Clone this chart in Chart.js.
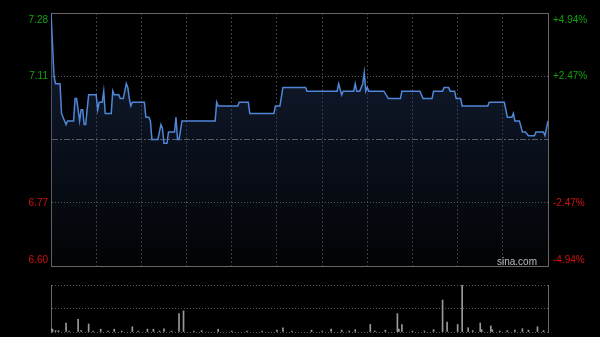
<!DOCTYPE html>
<html><head><meta charset="utf-8">
<script src="https://cdn.jsdelivr.net/npm/chart.js@4"></script>
<style>
html,body{margin:0;padding:0;background:#000;}
#wrap{position:relative;width:600px;height:337px;background:#000;overflow:hidden}
canvas{position:absolute;left:0;top:0}
</style></head><body>
<div id="wrap"><canvas id="price" width="600" height="337"></canvas><canvas id="vol" width="600" height="337"></canvas></div>
<script>
const prevClose = 6.94;
const priceMin = 6.60, priceMax = 7.28;
const priceTicks = [7.28, 7.11, 6.94, 6.77, 6.60];
const priceLabels = ['7.28', '7.11', '', '6.77', '6.60'];
const pctLabels = ['+4.94%', '+2.47%', '', '-2.47%', '-4.94%'];
const timeTicks = [0, 30, 60, 90, 120, 150, 180, 210, 240, 270, 300, 330];

const priceTimes = [0,2,3,6,7,8,10,11,15,16,17,19,20,21,22,23,25,30,31,32,34,35,36,40,41,42,45,46,48,50,51,52,53,54,62,63,65,66,67,71,73,74,75,77,78,82,83,84,85,87,109,110,111,124,125,131,132,148,149,152,154,169,170,190,191,193,194,201,202,203,205,207,208,209,210,211,221,224,232,233,245,247,253,254,260,261,264,265,268,269,272,273,290,291,301,303,306,307,308,311,313,315,317,321,322,327,328,330];
const prices = [7.28,7.11,7.09,7.09,7.01,7.00,6.98,6.99,6.99,7.05,7.05,6.99,7.02,7.02,6.98,6.98,7.06,7.06,7.02,7.04,7.04,7.07,7.01,7.01,7.07,7.06,7.06,7.05,7.05,7.09,7.08,7.05,7.03,7.04,7.04,7.00,7.00,6.99,6.94,6.94,6.98,6.97,6.93,6.93,6.96,6.96,7.00,6.94,6.94,6.99,6.99,7.04,7.03,7.03,7.04,7.04,7.01,7.01,7.03,7.03,7.08,7.08,7.07,7.07,7.09,7.06,7.07,7.07,7.09,7.07,7.07,7.09,7.12,7.07,7.08,7.07,7.07,7.05,7.05,7.07,7.07,7.05,7.05,7.07,7.07,7.08,7.08,7.07,7.07,7.05,7.05,7.03,7.03,7.04,7.04,7.00,7.00,7.01,6.99,6.99,6.96,6.96,6.95,6.95,6.96,6.96,6.95,6.99];

const volTimes = [0,1,3,5,10,12,18,20,25,28,33,38,42,47,54,58,64,68,72,75,80,85,88,95,100,111,120,130,140,150,154,160,173,180,186,193,198,202,212,215,222,230,231,233,240,248,254,260,263,270,273,277,280,285,286,292,293,298,303,308,313,317,323,327];
const volumes = [8,6,3,3,19,2,27,3,17,2,6,2,6,2,11,2,6,6,2,7,2,39,45,2,3,6,2,2,2,4,9,2,4,2,6,4,2,5,16,2,4,39,6,16,2,2,5,68,21,16,100,9,3,19,5,13,5,2,3,4,7,4,11,3];

const GRID = '#3c3c3c', BORDER = '#666';

const labelPlugin = {
  id: 'sideLabels',
  afterDraw(chart) {
    const ctx = chart.ctx, ys = chart.scales.y, a = chart.chartArea;
    ctx.save();
    ctx.font = '10px "Liberation Sans", Arial, sans-serif';
    priceTicks.forEach((v, i) => {
      if (!priceLabels[i]) return;
      let py = ys.getPixelForValue(v), base = 'middle';
      if (py <= a.top + 1) { base = 'top'; py = a.top + 2; }
      else if (py >= a.bottom - 1) { base = 'bottom'; py = a.bottom - 1; }
      ctx.fillStyle = v > prevClose ? '#10a010' : '#d01010';
      ctx.textBaseline = base;
      ctx.textAlign = 'right';
      ctx.fillText(priceLabels[i], a.left - 3, py);
      ctx.textAlign = 'left';
      ctx.fillText(pctLabels[i], a.right + 5, py);
    });
    ctx.fillStyle = '#bdbdbd';
    ctx.textAlign = 'right';
    ctx.textBaseline = 'middle';
    ctx.fillText('sina.com', a.right - 11, a.bottom - 4);
    ctx.restore();
  }
};

new Chart(document.getElementById('price'), {
  type: 'line',
  data: { datasets: [{
    data: priceTimes.map((t, i) => ({ x: t, y: prices[i] })),
    borderColor: '#4f86d8', borderWidth: 1.5, pointRadius: 0, tension: 0,
    fill: 'start',
    backgroundColor: (c) => {
      const a = c.chart.chartArea;
      if (!a) return 'rgba(30,50,90,0.3)';
      const g = c.chart.ctx.createLinearGradient(0, a.top, 0, a.bottom);
      g.addColorStop(0, 'rgba(35,55,95,0.55)');
      g.addColorStop(1, 'rgba(35,55,95,0.06)');
      return g;
    }
  }]},
  options: {
    responsive: false, animation: false, devicePixelRatio: 1,
    layout: { padding: { top: 13, bottom: 71, left: 0, right: 0 } },
    plugins: { legend: { display: false }, tooltip: { enabled: false } },
    scales: {
      x: {
        type: 'linear', min: 0, max: 330, offset: false,
        afterBuildTicks: s => { s.ticks = timeTicks.map(v => ({ value: v })); },
        afterFit: s => { s.height = 0; },
        ticks: { display: false },
        grid: { drawTicks: false, color: c => (c.tick && (c.tick.value === 0 || c.tick.value === 330)) ? 'rgba(0,0,0,0)' : GRID },
        border: { display: true, color: BORDER, dash: [2, 2] }
      },
      y: {
        position: 'left', min: priceMin, max: priceMax,
        afterBuildTicks: s => { s.ticks = priceTicks.map(v => ({ value: v })); },
        afterFit: s => { s.width = 51; },
        ticks: { display: false },
        grid: { drawTicks: false, color: c => {
          if (!c.tick) return GRID;
          if (c.tick.value === priceMax) return BORDER;
          if (c.tick.value === priceMin) return 'rgba(0,0,0,0)';
          if (c.tick.value === prevClose) return '#6a6a6a';
          return '#5a5a5a';
        }},
        border: { display: true, color: BORDER, dash: c => {
          if (!c.tick) return [];
          if (c.tick.value === priceMax) return [];
          if (c.tick.value === prevClose) return [6, 2, 2, 2];
          return [1, 2];
        }}
      },
      y2: {
        position: 'right', min: priceMin, max: priceMax,
        afterFit: s => { s.width = 52; },
        ticks: { display: false },
        grid: { display: false },
        border: { display: true, color: BORDER }
      }
    }
  },
  plugins: [labelPlugin]
});

new Chart(document.getElementById('vol'), {
  type: 'bar',
  data: { datasets: [{
    data: volTimes.map((t, i) => ({ x: t, y: volumes[i] })),
    backgroundColor: '#9a9a9a', borderWidth: 0, barThickness: 1
  }]},
  options: {
    responsive: false, animation: false, devicePixelRatio: 1,
    layout: { padding: { top: 285, bottom: 5, left: 0, right: 0 } },
    plugins: { legend: { display: false }, tooltip: { enabled: false } },
    scales: {
      x: {
        type: 'linear', min: 0, max: 330, offset: false,
        afterFit: s => { s.height = 0; },
        ticks: { display: false },
        grid: { display: false, offset: false },
        border: { display: false }
      },
      y: {
        position: 'left', min: 0, max: 100,
        afterBuildTicks: s => { s.ticks = [{ value: 0 }, { value: 50 }, { value: 100 }]; },
        afterFit: s => { s.width = 51; },
        ticks: { display: false },
        grid: { drawTicks: false, color: '#5a5a5a' },
        border: { display: true, color: BORDER, dash: [1, 2] }
      },
      y2: {
        position: 'right', min: 0, max: 100,
        afterFit: s => { s.width = 52; },
        ticks: { display: false },
        grid: { display: false },
        border: { display: true, color: BORDER }
      }
    }
  }
});
</script>
</body></html>
